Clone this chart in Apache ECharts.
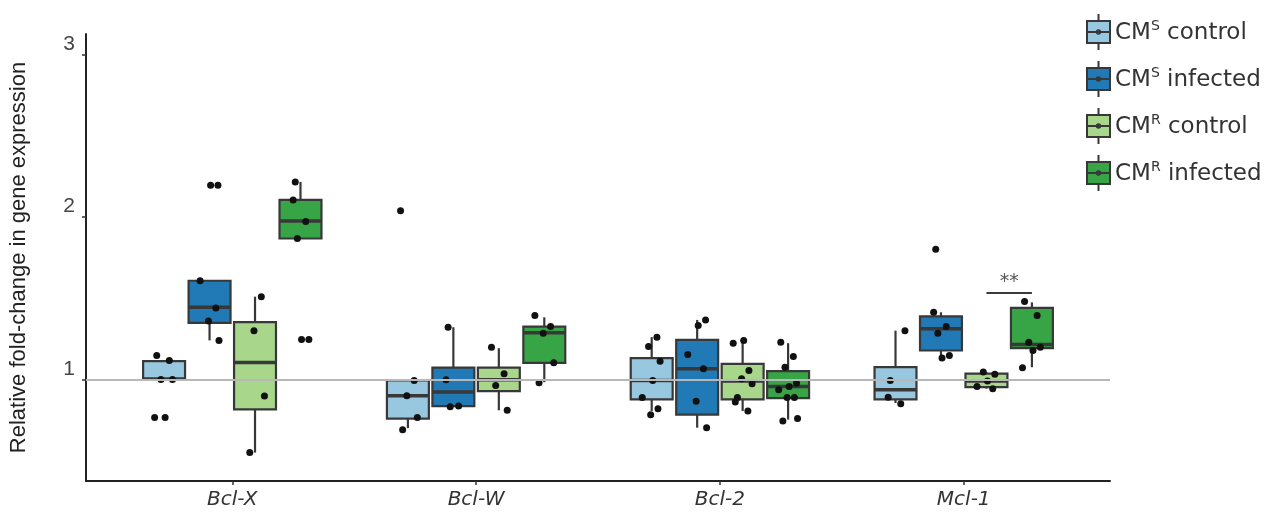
<!DOCTYPE html>
<html><head><meta charset="utf-8">
<script src="https://cdn.jsdelivr.net/npm/echarts@6/dist/echarts.min.js"></script>
<style>html,body{margin:0;padding:0;background:#fff}#c{width:1286px;height:515px}</style>
</head><body><div id="c"></div>
<script>
// ---------- data ----------
const genes = ['Bcl-X', 'Bcl-W', 'Bcl-2', 'Mcl-1'];
const groups = ['CMS control', 'CMS infected', 'CMR control', 'CMR infected'];
const yTicks = [1, 2, 3];

// box stats per gene: [whiskerLow, Q1, median, Q3, whiskerHigh]
const cmsControlBox  = [[1.000, 1.000, 1.002, 1.112, 1.112], [0.700, 0.759, 0.900, 0.994, 0.994], [0.806, 0.877, 0.994, 1.131, 1.260], [0.855, 0.877, 0.937, 1.075, 1.300]];
const cmsInfectedBox = [[1.240, 1.348, 1.444, 1.607, 1.607], [0.832, 0.836, 0.922, 1.072, 1.321], [0.703, 0.783, 1.065, 1.243, 1.366], [1.131, 1.178, 1.311, 1.388, 1.413]];
const cmrControlBox  = [[0.550, 0.816, 1.104, 1.352, 1.509], [0.810, 0.928, 0.998, 1.072, 1.192], [0.806, 0.877, 0.990, 1.096, 1.229], [0.943, 0.953, 0.990, 1.035, 1.045]];
const cmrInfectedBox = [[1.867, 1.867, 1.974, 2.104, 2.215], [0.983, 1.102, 1.287, 1.325, 1.382], [0.753, 0.885, 0.957, 1.051, 1.223], [1.075, 1.192, 1.215, 1.440, 1.474]];

// individual observations per gene
const cmsControlPts  = [[1.147, 1.117, 1.000, 1.000, 0.765, 0.765], [0.994, 0.900, 0.765, 0.691, 2.037], [1.260, 1.202, 1.112, 0.994, 0.888, 0.820, 0.783], [1.300, 0.994, 0.891, 0.851]];
const cmsInfectedPts = [[2.195, 2.195, 1.607, 1.440, 1.360, 1.240], [1.321, 0.998, 0.836, 0.832], [1.366, 1.331, 1.153, 1.065, 0.865, 0.703], [1.800, 1.413, 1.325, 1.284, 1.147, 1.131]];
const cmrControlPts  = [[1.509, 1.300, 0.898, 0.550], [1.198, 1.035, 0.963, 0.810], [1.239, 1.223, 1.055, 1.004, 0.973, 0.888, 0.861, 0.806], [1.045, 1.031, 0.990, 0.957, 0.943]];
const cmrInfectedPts = [[2.215, 2.104, 1.971, 1.867, 1.245, 1.245], [1.393, 1.325, 1.284, 1.102, 0.980], [1.229, 1.141, 1.075, 0.977, 0.957, 0.937, 0.888, 0.888, 0.759, 0.744], [1.480, 1.393, 1.229, 1.198, 1.178, 1.072]];

// significance bracket (Mcl-1, CMR control vs CMR infected)
const sigGene = 3, sigFrom = 2, sigTo = 3, sigY = 1.535, sigLabel = '**';

// ---------- layout / style ----------
const boxData = [cmsControlBox, cmsInfectedBox, cmrControlBox, cmrInfectedBox];
const ptsData = [cmsControlPts, cmsInfectedPts, cmrControlPts, cmrInfectedPts];
const colors = ['#98c8e0', '#2179b5', '#a8d68b', '#37a446'];
const BOX_W = 0.172, STEP = 0.1865;
const off = g => (g - 1.5) * STEP;
const jitter = [-0.35, 0.25, -0.15, 0.4, 0.05, -0.45, 0.3, -0.05, 0.45, -0.25];
const STROKE = '#383838';
const FONT = 'DejaVu Sans';

function renderBox(params, api) {
  const x = api.value(0);
  const pLo = api.coord([x, api.value(1)]), pQ1 = api.coord([x, api.value(2)]),
        pMd = api.coord([x, api.value(3)]), pQ3 = api.coord([x, api.value(4)]),
        pHi = api.coord([x, api.value(5)]);
  const hw = api.size([BOX_W, 0])[0] / 2;
  return { type: 'group', children: [
    { type: 'line', shape: { x1: pLo[0], y1: pLo[1], x2: pQ1[0], y2: pQ1[1] }, style: { stroke: STROKE, lineWidth: 2.2 } },
    { type: 'line', shape: { x1: pQ3[0], y1: pQ3[1], x2: pHi[0], y2: pHi[1] }, style: { stroke: STROKE, lineWidth: 2.2 } },
    { type: 'rect', shape: { x: pQ3[0] - hw, y: pQ3[1], width: 2 * hw, height: pQ1[1] - pQ3[1] }, style: { fill: api.visual('color'), stroke: STROKE, lineWidth: 2.2 } },
    { type: 'line', shape: { x1: pMd[0] - hw, y1: pMd[1], x2: pMd[0] + hw, y2: pMd[1] }, style: { stroke: STROKE, lineWidth: 3.5 } }
  ]};
}

const series = [];
groups.forEach((name, g) => {
  series.push({
    name, type: 'custom', renderItem: renderBox, z: 2,
    itemStyle: { color: colors[g] },
    encode: { x: 0, y: [1, 2, 3, 4, 5] },
    data: boxData[g].map((s, i) => [i + off(g)].concat(s))
  });
});
// reference line at 1 + significance bracket
series.push({
  type: 'scatter', data: [], z: 3, silent: true,
  markLine: {
    silent: true, symbol: 'none', animation: false,
    data: [
      [{ coord: [-0.6, 1], lineStyle: { color: '#b8b8b8', width: 2, type: 'solid' }, label: { show: false } },
       { coord: [3.6, 1] }],
      [{ coord: [sigGene + off(sigFrom), sigY], lineStyle: { color: '#3a3a3a', width: 2, type: 'solid' },
         label: { show: true, position: 'middle', formatter: sigLabel, fontSize: 19, color: '#555', fontFamily: FONT, distance: 1 } },
       { coord: [sigGene + off(sigTo), sigY] }]
    ]
  }
});
groups.forEach((name, g) => {
  const d = [];
  let k = g * 3;
  ptsData[g].forEach((arr, i) => arr.forEach(v => {
    d.push([i + off(g) + jitter[k % jitter.length] * BOX_W / 2, v]); k++;
  }));
  series.push({ name, type: 'scatter', z: 4, symbolSize: 7, itemStyle: { color: '#111', opacity: 1 }, data: d });
});

const iconPath = 'path://M11.5,0L11.5,7M11.5,29L11.5,36M0,7L23,7L23,29L0,29ZM0,18L23,18M9.8,18A1.7,1.7,0,1,0,13.2,18A1.7,1.7,0,1,0,9.8,18Z';

const chart = echarts.init(document.getElementById('c'), null, { renderer: 'canvas' });
chart.setOption({
  animation: false,
  backgroundColor: '#fff',
  grid: { left: 86, right: 176, top: 34, bottom: 34 },
  legend: {
    orient: 'vertical', left: 1086, top: 13, padding: 0, itemWidth: 23, itemHeight: 36, itemGap: 9,
    data: groups.map((n, g) => ({ name: n, icon: iconPath, itemStyle: { color: colors[g], borderColor: STROKE, borderWidth: 2 } })),
    formatter: n => n.replace(/^CM([SR]) (.*)$/, '{a|CM}{s|$1}{a| $2}'),
    textStyle: {
      color: '#333', fontFamily: FONT, fontSize: 23,
      rich: {
        a: { fontSize: 23, fontFamily: FONT, color: '#333', lineHeight: 26, verticalAlign: 'bottom' },
        s: { fontSize: 14, fontFamily: FONT, color: '#333', lineHeight: 16, verticalAlign: 'top' }
      }
    }
  },
  xAxis: {
    type: 'value', min: -0.6, max: 3.6, splitLine: { show: false },
    axisLine: { show: true, onZero: false, lineStyle: { color: '#222', width: 2 } },
    axisTick: { show: true, customValues: [0, 1, 2, 3], length: 4, lineStyle: { color: '#333', width: 1.5 } },
    axisLabel: { customValues: [0, 1, 2, 3], formatter: v => genes[Math.round(v)], fontFamily: FONT, fontStyle: 'italic', fontSize: 20, color: '#333', margin: 9 }
  },
  yAxis: {
    type: 'value', min: 0.375, max: 3.125, splitLine: { show: false },
    axisLine: { show: true, onZero: false, lineStyle: { color: '#222', width: 2 } },
    axisTick: { show: true, customValues: yTicks, length: 4, lineStyle: { color: '#333', width: 1.5 } },
    axisLabel: { customValues: yTicks, fontFamily: 'Liberation Sans', fontSize: 21, color: '#444', margin: 11, verticalAlign: 'bottom' },
    name: 'Relative fold-change in gene expression', nameLocation: 'middle', nameGap: 56,
    nameTextStyle: { fontFamily: 'Liberation Sans', fontSize: 22, color: '#222' }
  },
  series
});
</script></body></html>
